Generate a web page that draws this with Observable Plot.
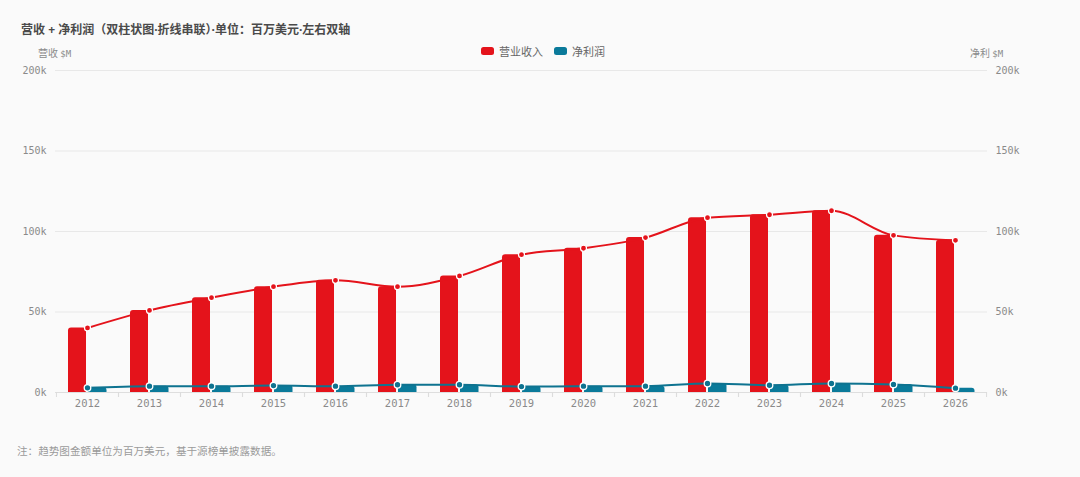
<!DOCTYPE html>
<html>
<head>
<meta charset="utf-8">
<script src="https://cdn.jsdelivr.net/npm/d3@7"></script>
<script src="https://cdn.jsdelivr.net/npm/@observablehq/plot@0.6"></script>
<style>
  html, body { margin: 0; padding: 0; background: #fafafa; }
  body { width: 1080px; height: 477px; position: relative; overflow: hidden;
         font-family: "Noto Sans CJK SC", "Noto Sans", sans-serif; }
  .title { position: absolute; left: 21px; top: 20px; font-size: 12px; font-weight: 700; color: #4a4a4a; white-space: nowrap; }
  .title .d { font-family: "Noto Sans", sans-serif; font-weight: 700; }
  .axt { position: absolute; top: 45px; font-size: 10px; color: #8a8a8a; white-space: nowrap; }
  .axt .m { font-family: "DejaVu Sans Mono", monospace; font-size: 9px; }
  .legend { position: absolute; top: 43px; left: 481px; font-size: 11px; color: #666; white-space: nowrap; display: flex; align-items: center; }
  .sw { display: inline-block; width: 13px; height: 8px; border-radius: 2.5px; margin-right: 5px; }
  .legend span.item { display: inline-flex; align-items: center; margin-right: 11px; }
  .caption { position: absolute; left: 17px; top: 443px; font-size: 10.6px; color: #9a9a9a; white-space: nowrap; }
  #chart { position: absolute; left: 0; top: 40px; }
</style>
</head>
<body>
<div class="title">营收<span class="d"> + </span>净利润（双柱状图<span class="d">·</span>折线串联）<span class="d">·</span>单位：百万美元<span class="d">·</span>左右双轴</div>
<div class="axt" style="left:38px">营收 <span class="m">$M</span></div>
<div class="axt" style="left:970px">净利 <span class="m">$M</span></div>
<div class="legend" id="legend"></div>
<div id="chart"></div>
<div class="caption">注：趋势图金额单位为百万美元，基于源榜单披露数据。</div>
<script>
// ---- data ----
const years = ["2012","2013","2014","2015","2016","2017","2018","2019","2020","2021","2022","2023","2024","2025","2026"];
const revenue = [40100, 51000, 58900, 65700, 69700, 65700, 72400, 85600, 89600, 96200, 108600, 110400, 112900, 97600, 94500];
const netIncome = [2900, 3900, 3900, 4300, 3900, 4800, 4800, 3700, 3900, 3900, 5600, 4500, 5600, 5000, 2700];
const yTicks = [0, 50000, 100000, 150000, 200000];
const seriesNames = ["营业收入", "净利润"];

const RED = "#e4131b";
const TEAL = "#0a7a9a";
const TEAL_LINE = "#0e7390";

const revData = years.map((y, i) => ({year: y, value: revenue[i]}));
const netData = years.map((y, i) => ({year: y, value: netIncome[i]}));

// legend
const legend = document.getElementById("legend");
[[seriesNames[0], RED], [seriesNames[1], TEAL]].forEach(([n, c]) => {
  const s = document.createElement("span");
  s.className = "item";
  s.innerHTML = `<span class="sw" style="background:${c}"></span>${n}`;
  legend.appendChild(s);
});

const W = 1080, H = 390;
const mL = 55, mR = 93, mT = 30, mB = 38;
const step = (W - mL - mR) / years.length;
const half = step / 2;
const fmt = d => (d / 1000) + "k";
const mono = "DejaVu Sans Mono, monospace";

const chart = Plot.plot({
  width: W,
  height: H,
  marginLeft: mL,
  marginRight: mR,
  marginTop: mT,
  marginBottom: mB,
  style: {background: "transparent", fontFamily: mono, fontSize: "10px", color: "#8a8a8a"},
  x: {type: "band", domain: years, padding: 0, label: null},
  y: {domain: [0, 200000], label: null},
  marks: [
    Plot.gridY(yTicks, {stroke: "#e8e8e8", strokeOpacity: 1}),
    Plot.ruleY([0], {stroke: "#dedede"}),
    Plot.axisY(yTicks, {anchor: "left", tickSize: 0, tickPadding: 9, tickFormat: fmt, label: null, fill: "#8a8a8a"}),
    Plot.axisY(yTicks, {anchor: "right", tickSize: 0, tickPadding: 8, tickFormat: fmt, label: null, fill: "#8a8a8a"}),
    Plot.axisX({tickSize: 0, tickPadding: 7, label: null, fill: "#8a8a8a", fontSize: 10.5}),
    Plot.axisX({tickSize: 5, text: null, label: null, dx: -half, stroke: "#dcdcdc"}),
    Plot.axisX({tickSize: 5, text: null, label: null, dx: half, stroke: "#dcdcdc"}),
    Plot.barY(revData, {x: "year", y: "value", fill: RED, insetLeft: 12, insetRight: 32, insetBottom: -4, rx: 3, clip: true}),
    Plot.barY(netData, {x: "year", y: "value", fill: TEAL, insetLeft: 32, insetRight: 11.5, insetBottom: -4, rx: 3, clip: true}),
    Plot.lineY(revData, {x: "year", y: "value", stroke: RED, strokeWidth: 2, curve: "monotone-x"}),
    Plot.lineY(netData, {x: "year", y: "value", stroke: TEAL_LINE, strokeWidth: 2, curve: "monotone-x"}),
    Plot.dot(revData, {x: "year", y: "value", r: 3, fill: RED, stroke: "white", strokeWidth: 1.2}),
    Plot.dot(netData, {x: "year", y: "value", r: 3.3, fill: TEAL_LINE, stroke: "white", strokeWidth: 1.3})
  ]
});
document.getElementById("chart").appendChild(chart);
</script>
</body>
</html>
